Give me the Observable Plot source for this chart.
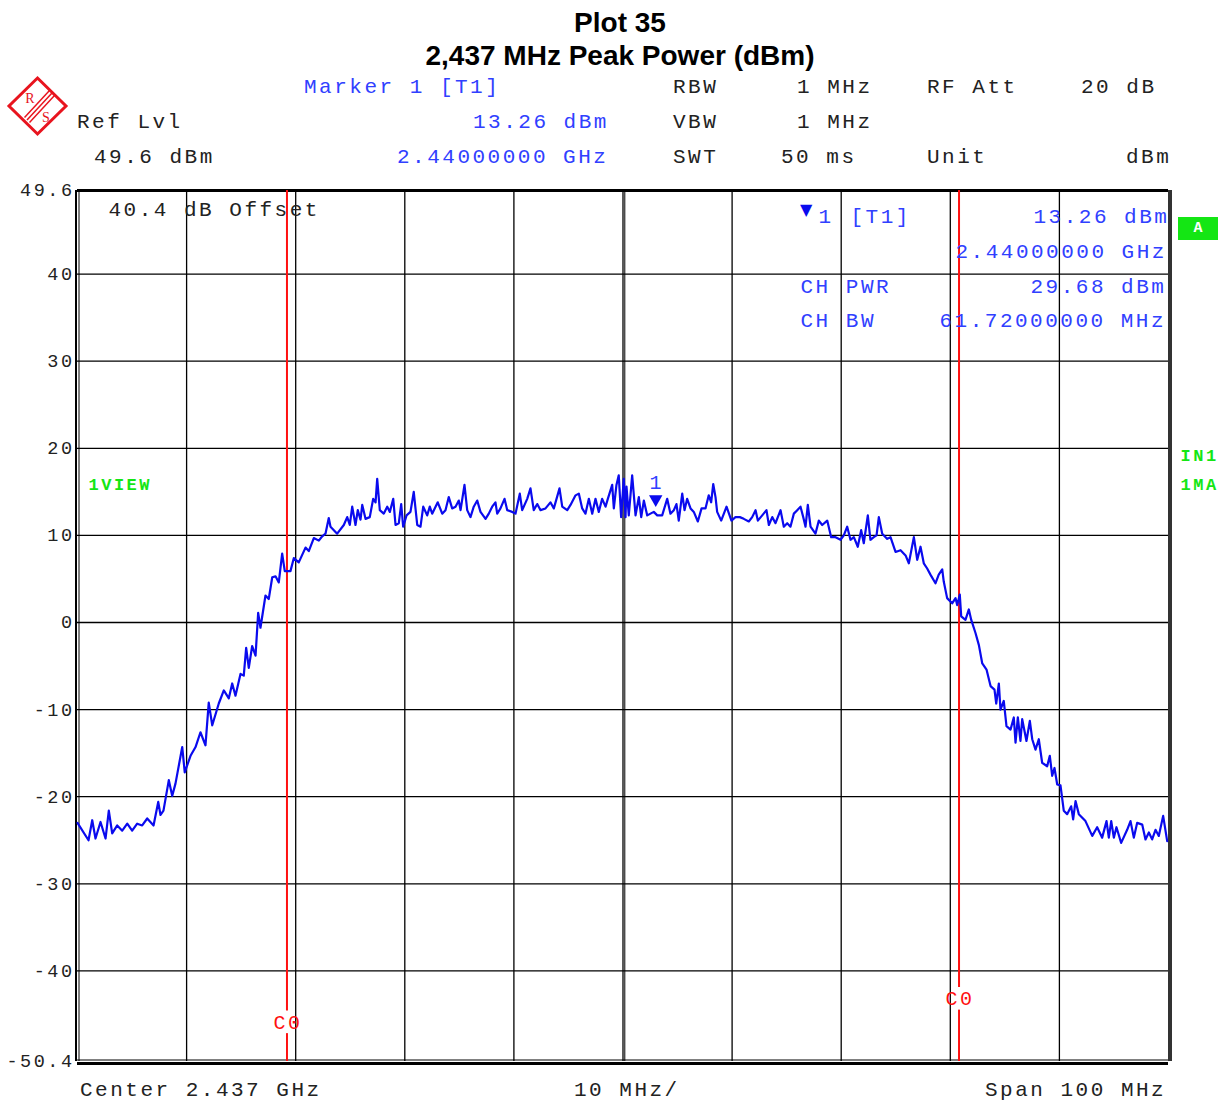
<!DOCTYPE html>
<html>
<head>
<meta charset="utf-8">
<script src="https://cdn.jsdelivr.net/npm/d3@7"></script>
<script src="https://cdn.jsdelivr.net/npm/@observablehq/plot@0.6"></script>
<style>
html,body{margin:0;padding:0;background:#fff;}
#page{position:relative;width:1228px;height:1101px;overflow:hidden;background:#fff;}
.title{position:absolute;left:0;width:1240px;text-align:center;font-family:"Liberation Sans",Arial,sans-serif;font-weight:bold;font-size:28px;line-height:1;transform:translateY(-50%);color:#000;}
.t{position:absolute;font-family:"Liberation Mono",monospace;font-size:21px;letter-spacing:2.5px;line-height:1;white-space:pre;transform:translateY(-50%);color:#222;}
.b{color:#3040ff;}
#chart{position:absolute;left:0;top:175px;width:1228px;}
#chart svg{overflow:visible;}
#chart svg text{letter-spacing:2.5px;}
#chart g[aria-label="ytick"] text{letter-spacing:1.3px;}
#chart g[aria-label="green"] text{letter-spacing:2.8px;}
#chart g[aria-label="sym"] text{letter-spacing:0px;}
.abox{position:absolute;left:1178px;top:217px;width:40px;height:23px;background:#14e614;color:#fff;font:bold 15px "Liberation Mono",monospace;text-align:center;line-height:23px;}
</style>
</head>
<body>
<div id="page">
  <div class="title" style="top:23px">Plot 35</div>
  <div class="title" style="top:56px">2,437 MHz Peak Power (dBm)</div>

  <svg style="position:absolute;left:0;top:70px" width="80" height="75" viewBox="0 70 80 75">
    <polygon points="37.5,78 66,106 37.5,134 9,106" fill="none" stroke="#e8141e" stroke-width="3"/>
    <line x1="52" y1="93" x2="27" y2="120" stroke="#e8141e" stroke-width="1.5"/>
    <line x1="54.5" y1="95.5" x2="29.5" y2="122.5" stroke="#e8141e" stroke-width="1.5"/>
    <line x1="49.5" y1="90.5" x2="24.5" y2="117.5" stroke="#e8141e" stroke-width="1.5"/>
    <text x="30" y="103" font-size="14" fill="#e8141e" text-anchor="middle" font-family="Liberation Serif">R</text>
    <text x="46" y="122" font-size="14" fill="#e8141e" text-anchor="middle" font-family="Liberation Serif">S</text>
  </svg>

  <div class="t b" style="left:304px;top:87px">Marker 1 [T1]</div>
  <div class="t" style="left:673px;top:87px">RBW</div>
  <div class="t" style="left:797px;top:87px">1 MHz</div>
  <div class="t" style="left:927px;top:87px">RF Att</div>
  <div class="t" style="left:1081px;top:87px">20 dB</div>

  <div class="t" style="left:77px;top:122px">Ref Lvl</div>
  <div class="t b" style="left:473px;top:122px">13.26 dBm</div>
  <div class="t" style="left:673px;top:122px">VBW</div>
  <div class="t" style="left:797px;top:122px">1 MHz</div>

  <div class="t" style="left:94px;top:157px">49.6 dBm</div>
  <div class="t b" style="left:397px;top:157px">2.44000000 GHz</div>
  <div class="t" style="left:673px;top:157px">SWT</div>
  <div class="t" style="left:781px;top:157px">50 ms</div>
  <div class="t" style="left:927px;top:157px">Unit</div>
  <div class="t" style="left:1126px;top:157px">dBm</div>

  <div id="chart"></div>
  <div class="abox">A</div>

  <div class="t" style="left:80px;top:1090px">Center 2.437 GHz</div>
  <div class="t" style="left:574px;top:1090px">10 MHz/</div>
  <div class="t" style="left:985px;top:1090px">Span 100 MHz</div>
</div>
<script>
// ---- data ----
const spanStartMHz = 2387;
const spanMHz = 100;
const centerMHz = 2437;
const refLevelDbm = 49.6;
const refLowDbm = -50.4;

// trace: frequency offset from span start (MHz) and level (dBm)
const freqOffsetMHz = [
  0.00,1.01,1.35,1.65,2.11,2.57,2.87,3.18,3.64,4.10,4.56,5.01,5.47,5.93,6.39,6.97,7.40,7.61,7.88,8.37,
  8.68,8.98,9.60,9.83,10.36,10.82,11.27,11.73,12.03,12.35,12.95,13.41,13.87,14.18,14.48,14.94,15.24,15.46,15.70,16.01,
  16.32,16.56,16.77,17.23,17.53,17.85,18.15,18.45,18.76,19.00,19.52,19.83,20.28,20.90,21.20,21.66,22.12,22.43,22.73,23.03,
  23.19,23.80,24.41,24.72,24.96,25.18,25.48,25.69,25.94,26.10,26.40,26.79,27.10,27.32,27.47,27.71,28.07,28.39,28.63,28.94,
  29.15,29.45,29.67,29.85,30.16,30.52,30.82,31.14,31.44,31.69,32.05,32.29,32.51,33.02,33.43,33.73,34.03,34.34,34.65,34.95,
  35.11,35.47,35.72,36.02,36.32,36.64,36.94,37.40,37.70,38.01,38.31,38.47,38.77,39.14,39.39,39.84,40.15,40.54,40.76,41.22,
  41.52,41.82,42.14,42.44,42.90,43.35,43.66,44.18,44.43,44.89,45.19,45.65,45.95,46.26,46.56,46.87,47.18,47.48,47.78,48.09,
  48.40,48.61,49.01,49.16,49.40,49.61,49.83,50.07,50.23,
  50.32,50.53,50.84,51.15,51.45,51.67,51.91,52.22,52.52,52.82,53.14,53.59,54.05,54.35,54.66,54.90,55.11,55.43,55.64,55.88,
  56.19,56.49,56.86,57.20,57.56,57.86,58.08,58.27,58.48,58.63,59.00,59.49,59.94,60.31,60.71,61.07,61.53,61.84,62.15,62.36,
  62.76,63.15,63.37,63.68,63.98,64.44,64.74,65.05,65.35,65.66,65.97,66.27,66.52,66.73,66.94,67.19,67.64,67.95,68.26,68.72,
  69.08,69.48,69.94,70.24,70.55,70.85,71.16,71.52,71.83,72.07,72.44,72.68,72.99,73.24,73.45,73.76,74.22,74.52,74.98,75.44,
  75.90,76.20,76.66,76.97,77.27,77.57,
  77.88,78.18,78.64,78.94,79.26,79.40,79.71,80.17,80.48,80.63,80.87,81.00,81.39,81.70,81.92,82.31,82.62,82.93,83.32,83.69,
  84.05,84.21,84.45,84.60,84.90,85.15,85.52,85.82,85.98,86.19,86.43,86.59,86.98,87.29,87.51,87.81,88.11,88.42,88.88,89.12,
  89.34,89.55,89.80,90.10,90.40,90.71,91.08,91.26,91.48,91.78,92.39,93.01,93.46,93.92,94.32,94.53,94.75,94.99,95.23,95.66,
  96.21,96.52,96.82,97.13,97.59,97.89,98.20,98.50,98.81,99.11,99.51,99.88
];
const levelDbm = [
  -23.0,-25.0,-22.7,-24.8,-22.9,-24.8,-21.6,-24.2,-23.3,-23.9,-23.1,-23.9,-23.1,-23.3,-22.5,-23.3,-20.6,-22.1,-21.6,-18.1,
  -19.9,-18.5,-14.3,-17.2,-15.3,-14.3,-12.6,-14.1,-9.2,-11.8,-9.3,-7.8,-8.7,-7.0,-8.4,-5.9,-6.1,-2.9,-5.2,-2.7,
  -3.8,1.1,-0.6,3.1,2.7,5.2,5.3,4.6,7.9,5.9,5.9,7.4,6.9,8.6,8.2,9.7,9.4,9.9,10.2,12.0,
  11.0,10.2,11.2,12.1,11.2,13.3,11.2,12.9,11.8,13.5,11.9,12.1,14.2,13.8,16.5,12.9,12.5,13.3,12.7,14.2,
  11.2,11.4,13.6,11.0,12.3,12.7,15.0,11.2,11.0,13.3,12.3,13.3,12.5,13.8,12.5,12.9,14.4,13.1,13.3,14.0,
  12.9,15.8,12.9,12.1,13.3,14.0,12.7,11.9,12.5,13.3,13.8,12.5,13.1,14.2,12.9,12.7,12.5,14.8,12.9,14.2,
  15.4,12.9,13.6,12.9,13.1,13.8,13.1,15.4,13.3,12.9,13.5,14.6,14.8,13.1,12.5,14.2,12.5,14.2,12.7,14.2,
  13.3,14.2,15.8,13.1,15.8,16.9,12.1,16.5,12.1,
  15.6,12.3,16.9,12.3,14.4,12.1,14.0,12.3,12.5,12.7,12.3,12.3,14.2,12.5,12.9,13.6,11.7,14.8,12.9,14.2,
  13.1,12.7,11.6,13.1,13.1,14.6,13.8,15.9,14.4,12.7,11.7,13.3,11.7,12.1,12.1,11.9,11.6,12.1,12.9,11.7,
  12.3,12.9,11.2,12.1,11.4,12.9,11.0,11.4,11.0,12.5,12.9,13.3,12.1,11.0,13.5,11.0,10.2,11.7,11.2,11.7,
  9.8,9.8,9.5,10.0,11.0,9.5,9.8,8.7,10.6,9.1,12.3,9.5,9.8,10.0,12.1,10.2,9.6,9.8,8.1,8.3,
  7.7,6.8,9.8,7.2,8.7,6.8,
  6.2,5.5,4.5,5.5,6.1,4.7,2.8,2.2,2.8,2.0,3.2,0.7,0.3,1.5,0.3,-1.2,-2.6,-4.7,-5.4,-7.3,
  -7.7,-9.3,-7.0,-10.0,-9.0,-11.9,-12.3,-10.9,-13.8,-10.9,-13.6,-11.1,-13.6,-11.3,-13.4,-14.6,-13.4,-16.1,-16.5,-15.3,
  -17.6,-16.7,-18.6,-18.7,-21.6,-22.0,-21.1,-22.6,-20.5,-22.0,-22.8,-24.5,-23.5,-24.7,-22.8,-24.7,-22.8,-24.7,-23.5,-25.3,
  -23.8,-22.8,-24.7,-23.0,-23.2,-24.9,-24.1,-24.9,-23.8,-24.5,-22.2,-25.1
];

// grid / ticks
const xGridMHz = [2397, 2407, 2417, 2427, 2437, 2447, 2457, 2467, 2477];
const yGridDbm = [40, 30, 20, 10, 0, -10, -20, -30, -40];
const yTickDbm = [49.6, 40, 30, 20, 10, 0, -10, -20, -30, -40, -50.4];

// marker and channel-power lines
const markerMHz = [2440];
const markerDbm = [13.26];
const chanEdgeMHz = [2406.2, 2467.8];
const chanLabelDbm = [-45.9, -43.2];

// ---- build tables ----
const trace = freqOffsetMHz.map((d, i) => ({f: spanStartMHz + d, v: levelDbm[i]}));
const marker = markerMHz.map((f, i) => ({f, v: markerDbm[i]}));
const chanLabels = chanEdgeMHz.map((f, i) => ({f, v: chanLabelDbm[i]}));
const redSegs = chanEdgeMHz.flatMap((f, i) => [
  {f, y1: refLevelDbm, y2: chanLabelDbm[i] + 1.3},
  {f, y1: chanLabelDbm[i] - 1.3, y2: refLowDbm}
]);

const blueTrace = "#0a0aee";
const blueText = "#3040ff";
const green = "#14e614";
const mono = "Liberation Mono";

const lab = (s, dx, dy, o = {}) => Plot.text([s], {
  text: d => d, frameAnchor: "top-left", dx, dy,
  textAnchor: "start", lineAnchor: "middle",
  fontSize: 21, fontFamily: mono, fill: "#222", ...o
});

const chart = Plot.plot({
  width: 1228,
  height: 894,
  marginTop: 15,
  marginBottom: 8,
  marginLeft: 77,
  marginRight: 60,
  x: {domain: [spanStartMHz, spanStartMHz + spanMHz], axis: null},
  y: {domain: [refLowDbm, refLevelDbm], axis: null},
  style: "background:#fff;overflow:visible;",
  marks: [
    Plot.ruleX(xGridMHz, {stroke: "#000", strokeWidth: 1.3}),
    Plot.ruleX([centerMHz], {stroke: "#000", strokeWidth: 1, dx: 1.8}),
    Plot.ruleY(yGridDbm, {stroke: "#000", strokeWidth: 1.3}),
    // frame
    Plot.ruleY([refLevelDbm], {stroke: "#000", strokeWidth: 3}),
    Plot.ruleX([spanStartMHz], {stroke: "#000", strokeWidth: 2, dx: -1.5}),
    Plot.ruleX([spanStartMHz], {stroke: "#000", strokeWidth: 1, dx: 1.5}),
    Plot.ruleX([spanStartMHz + spanMHz], {stroke: "#333", strokeWidth: 4, dx: 1.5}),
    Plot.ruleY([refLowDbm], {stroke: "#000", strokeWidth: 1, dy: -1.5}),
    Plot.ruleY([refLowDbm], {stroke: "#000", strokeWidth: 3, dy: 2}),
    // channel edges
    Plot.ruleX(redSegs, {x: "f", y1: "y1", y2: "y2", stroke: "#ff1010", strokeWidth: 2}),
    Plot.text(chanLabels, {x: "f", y: "v", text: () => "C0", fill: "#ff1010", fontSize: 20, fontFamily: mono, dx: 1}),
    // trace
    Plot.line(trace, {x: "f", y: "v", stroke: blueTrace, strokeWidth: 2.2}),
    // marker
    Plot.dot(marker, {x: "f", y: "v", symbol: "triangle", rotate: 180, r: 5, fill: blueTrace, stroke: null, dy: -7.8}),
    Plot.text(marker, {x: "f", y: "v", text: () => "1", dy: -24, dx: 1, fill: blueText, fontSize: 20, fontFamily: mono}),
    // y tick labels
    Plot.text(yTickDbm, {frameAnchor: "left", y: d => d, text: d => String(d), textAnchor: "end", dx: -3,
      fontSize: 18.5, fontFamily: mono, fill: "#222", ariaLabel: "ytick"}),
    // in-plot annotations
    lab("40.4 dB Offset", 31, 19),
    lab("\u25BC", 730, 19, {textAnchor: "middle", fontFamily: "DejaVu Sans", fontSize: 16, fill: blueTrace, ariaLabel: "sym"}),
    lab("1", 741, 26, {fill: blueText}),
    lab("[T1]", 773, 26, {fill: blueText}),
    lab("13.26 dBm", 956, 26, {fill: blueText}),
    lab("2.44000000 GHz", 878, 61, {fill: blueText}),
    lab("CH PWR", 723, 96, {fill: blueText}),
    lab("29.68 dBm", 953, 96, {fill: blueText}),
    lab("CH BW", 723, 130, {fill: blueText}),
    lab("61.72000000 MHz", 862, 130, {fill: blueText}),
    lab("1VIEW", 11, 294, {fill: green, fontWeight: "bold", fontSize: 17, ariaLabel: "green"}),
    lab("IN1", 1103, 265, {fill: green, fontWeight: "bold", fontSize: 17, ariaLabel: "green"}),
    lab("1MA", 1103, 294, {fill: green, fontWeight: "bold", fontSize: 17, ariaLabel: "green"})
  ]
});
document.getElementById("chart").appendChild(chart);
</script>
</body>
</html>
